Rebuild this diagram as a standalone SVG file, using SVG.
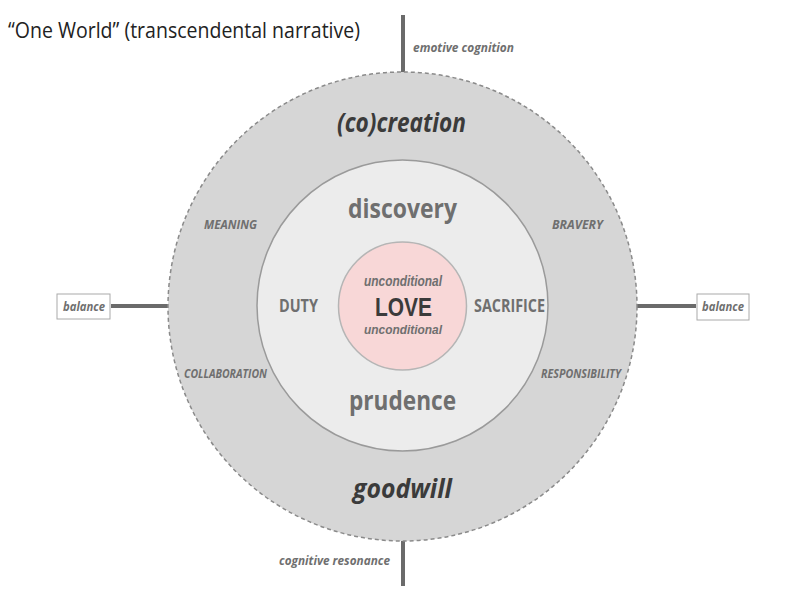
<svg xmlns="http://www.w3.org/2000/svg" width="800" height="607" viewBox="0 0 800 607">
<style>
.t{font-family:"Open Sans","Liberation Sans",sans-serif;font-weight:bold;text-anchor:middle}
.l{font-family:"Liberation Sans",Arial,sans-serif}
.i{font-style:italic}
.g{fill:#6f6f6f}
.d{fill:#3b3b3b}
.ln{stroke:#6b6b6b;stroke-width:4;fill:none}
.box{fill:#fff;stroke:#aaa;stroke-width:1}
</style>
<rect width="800" height="607" fill="#fff"/>
<text x="8" y="38" font-family="'Open Sans','Liberation Sans',sans-serif" font-size="22" fill="#222" textLength="352" lengthAdjust="spacingAndGlyphs">“One World” (transcendental narrative)</text>
<g id="connectors">
<line class="ln" x1="403" y1="15" x2="403" y2="72"/>
<line class="ln" x1="403" y1="541" x2="403" y2="586"/>
<line class="ln" x1="111" y1="306" x2="168" y2="306"/>
<line class="ln" x1="637" y1="306" x2="696" y2="306"/>
</g>
<g id="outer">
<circle cx="402.5" cy="306.5" r="234.5" fill="#d6d6d6" stroke="#8a8a8a" stroke-width="1.5" stroke-dasharray="4,3"/>
<text class="t i d" x="401.5" y="132" font-size="27" textLength="129" lengthAdjust="spacingAndGlyphs">(co)creation</text>
<text class="t i d" x="402.5" y="498" font-size="27" textLength="99" lengthAdjust="spacingAndGlyphs">goodwill</text>
<text class="t i g" x="230.5" y="229" font-size="13" textLength="53" lengthAdjust="spacingAndGlyphs">MEANING</text>
<text class="t i g" x="577.5" y="229" font-size="13" textLength="51" lengthAdjust="spacingAndGlyphs">BRAVERY</text>
<text class="t i g" x="225.5" y="378" font-size="13" textLength="83" lengthAdjust="spacingAndGlyphs">COLLABORATION</text>
<text class="t i g" x="581" y="378" font-size="13" textLength="80" lengthAdjust="spacingAndGlyphs">RESPONSIBILITY</text>
</g>
<g id="inner">
<circle cx="402.5" cy="305.5" r="145.5" fill="#ececec" stroke="#9a9a9a" stroke-width="1.5"/>
<text class="t g" x="402.5" y="218" font-size="27" textLength="109" lengthAdjust="spacingAndGlyphs">discovery</text>
<text class="t g" x="402.5" y="410" font-size="27" textLength="107" lengthAdjust="spacingAndGlyphs">prudence</text>
<text class="t g" x="298.5" y="312" font-size="18" textLength="39" lengthAdjust="spacingAndGlyphs">DUTY</text>
<text class="t g" x="509.5" y="312" font-size="18" textLength="71" lengthAdjust="spacingAndGlyphs">SACRIFICE</text>
</g>
<g id="love">
<circle cx="402.5" cy="306" r="64" fill="#f8d7d7" stroke="#b5b5b5" stroke-width="1.5"/>
<text class="t l i g" x="403" y="286" font-size="14" textLength="78" lengthAdjust="spacingAndGlyphs">unconditional</text>
<text class="t l d" x="403.5" y="316" font-size="25" textLength="57" lengthAdjust="spacingAndGlyphs">LOVE</text>
<text class="t l i g" x="403" y="334" font-size="13" textLength="78" lengthAdjust="spacingAndGlyphs">unconditional</text>
</g>
<g id="emotive">
<text class="t i g" x="463.5" y="52" font-size="12" textLength="101" lengthAdjust="spacingAndGlyphs">emotive cognition</text>
</g>
<g id="resonance">
<text class="t i g" x="334.5" y="565" font-size="12" textLength="111" lengthAdjust="spacingAndGlyphs">cognitive resonance</text>
</g>
<g id="balance-left">
<rect class="box" x="57" y="294" width="53" height="25"/>
<text class="t i g" x="84" y="311" font-size="12" textLength="42" lengthAdjust="spacingAndGlyphs">balance</text>
</g>
<g id="balance-right">
<rect class="box" x="697" y="294" width="52" height="26"/>
<text class="t i g" x="723" y="311" font-size="12" textLength="42" lengthAdjust="spacingAndGlyphs">balance</text>
</g>
</svg>
